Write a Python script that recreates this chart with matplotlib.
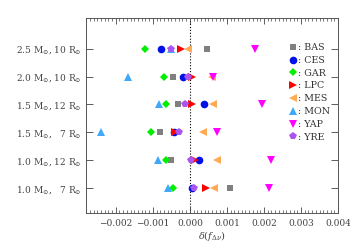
import matplotlib
matplotlib.use("Agg")
import matplotlib.pyplot as plt
from matplotlib.ticker import MultipleLocator

# models, bottom to top
models = [r"1.0 M$_{\odot}$,   7 R$_{\odot}$",
          r"1.0 M$_{\odot}$, 12 R$_{\odot}$",
          r"1.5 M$_{\odot}$,   7 R$_{\odot}$",
          r"1.5 M$_{\odot}$, 12 R$_{\odot}$",
          r"2.0 M$_{\odot}$, 10 R$_{\odot}$",
          r"2.5 M$_{\odot}$, 10 R$_{\odot}$"]

# delta(f_dnu) for each pipeline, same order as models
BAS = [0.00109, -0.00050, -0.00080, -0.00031, -0.00045, 0.00045]
CES = [0.00005, 0.00024, -0.00044, 0.00037, -0.00018, -0.00077]
GAR = [-0.00046, -0.00064, -0.00104, -0.00064, -0.00069, -0.00120]
LPC = [0.00044, 0.00015, -0.00039, 0.00005, 0.00005, -0.00025]
MES = [0.00065, 0.00072, 0.00035, 0.00062, 0.00060, -0.00004]
MON = [-0.00060, -0.00086, -0.00239, -0.00082, -0.00167, -0.00050]
YAP = [0.00214, 0.00219, 0.00074, 0.00195, 0.00062, 0.00175]
YRE = [0.00011, 0.00003, -0.00028, -0.00014, -0.00004, -0.00051]

series = [("BAS", BAS, "s", "#808080"),
          ("CES", CES, "o", "#0010e8"),
          ("GAR", GAR, "D", "#00ee00"),
          ("LPC", LPC, ">", "#ff0000"),
          ("MES", MES, "<", "#ffaa55"),
          ("MON", MON, "^", "#40a8f8"),
          ("YAP", YAP, "v", "#ff00ff"),
          ("YRE", YRE, "p", "#aa55ee")]

plt.rcParams["mathtext.fontset"] = "dejavuserif"
plt.rcParams["font.family"] = "DejaVu Serif"

fig = plt.figure(figsize=(3.5, 2.5), dpi=100)
ax = fig.add_axes([0.246, 0.148, 0.720, 0.780])

ypos = list(range(1, len(models) + 1))
ax.axvline(0, color="black", linestyle=":", linewidth=0.8, zorder=1)

for name, vals, mk, col in series:
    ax.plot(vals, ypos, linestyle="none", marker=mk, color=col,
            markersize=4.5 if mk in ("D", "s") else 5.5, markeredgewidth=0,
            label=": " + name, zorder=3)

ax.set_xlim(-0.0028, 0.004)
ax.set_ylim(0.1, 7.1)
ax.set_yticks(ypos)
ax.set_yticklabels(models)
ax.set_xticks([-0.002, -0.001, 0.0, 0.001, 0.002, 0.003, 0.004])
ax.set_xticklabels(["\u22120.002", "\u22120.001", "0.000", "0.001",
                    "0.002", "0.003", "0.004"])
ax.xaxis.set_minor_locator(MultipleLocator(0.0001))
ax.tick_params(axis="both", which="both", direction="in", top=True,
               right=True, labelsize=6.5, colors="#444444")
ax.tick_params(axis="x", which="major", length=4, width=0.6, pad=4)
ax.tick_params(axis="x", which="minor", length=2, width=0.5)
ax.tick_params(axis="y", which="major", length=5, width=0.6, pad=3)
for sp in ax.spines.values():
    sp.set_color("#555555")
    sp.set_linewidth(0.7)

ax.set_xlabel(r"$\delta(f_{\Delta\nu})$", fontsize=7, color="#444444",
              labelpad=1)

leg = ax.legend(loc="upper right", bbox_to_anchor=(0.99, 0.90),
                frameon=False, fontsize=6.8, handlelength=0.6,
                handletextpad=0.2, labelspacing=0.4, borderaxespad=0.2,
                markerscale=1.0)
for t in leg.get_texts():
    t.set_color("#333333")

fig.savefig("out.png", dpi=100)
